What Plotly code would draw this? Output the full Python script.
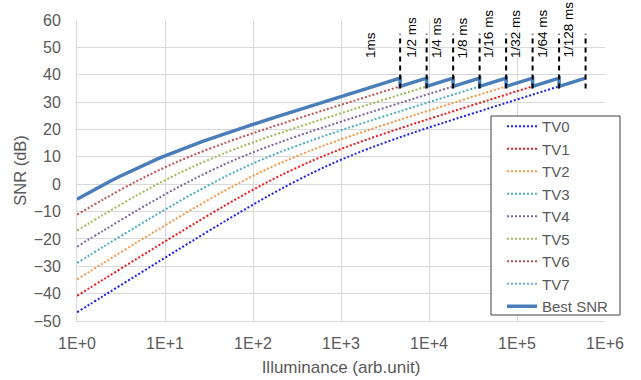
import numpy as np
import plotly.graph_objects as go

# ---- data ----
tv_names = ["TV0", "TV1", "TV2", "TV3", "TV4", "TV5", "TV6", "TV7"]

tv0_x = [1, 2, 5, 10, 20, 50, 100, 200, 500, 1000, 2000, 5000, 10000, 20000, 50000, 100000, 200000, 500000, 601600]
tv0_y = [-46.82, -40.81, -32.87, -26.88, -20.93, -13.18, -7.48, -2.04, 4.53, 8.93, 12.84, 17.47, 20.72, 23.85, 27.91, 30.94, 33.97, 37.95, 38.76]

tv1_x = [1, 2, 5, 10, 20, 50, 100, 200, 500, 1000, 2000, 5000, 10000, 20000, 50000, 100000, 200000, 300800]
tv1_y = [-40.81, -34.80, -26.88, -20.93, -15.05, -7.48, -2.04, 3.01, 8.93, 12.84, 16.38, 20.72, 23.85, 26.93, 30.94, 33.97, 36.98, 38.76]

tv2_x = [1, 2, 5, 10, 20, 50, 100, 200, 500, 1000, 2000, 5000, 10000, 20000, 50000, 100000, 150400]
tv2_y = [-34.80, -28.81, -20.93, -15.05, -9.29, -2.04, 3.01, 7.57, 12.84, 16.38, 19.69, 23.85, 26.93, 29.97, 33.97, 36.98, 38.76]

tv3_x = [1, 2, 5, 10, 20, 50, 100, 200, 500, 1000, 2000, 5000, 10000, 20000, 50000, 75200]
tv3_y = [-28.81, -22.84, -15.05, -9.29, -3.76, 3.01, 7.57, 11.63, 16.38, 19.69, 22.85, 26.93, 29.97, 32.99, 36.98, 38.76]

tv4_x = [1, 2, 5, 10, 20, 50, 100, 200, 500, 1000, 2000, 5000, 10000, 20000, 37600]
tv4_y = [-22.84, -16.94, -9.29, -3.76, 1.43, 7.57, 11.63, 15.27, 19.69, 22.85, 25.94, 29.97, 32.99, 36.01, 38.76]

tv5_x = [1, 2, 5, 10, 20, 50, 100, 200, 500, 1000, 2000, 5000, 10000, 18800]
tv5_y = [-16.94, -11.13, -3.76, 1.43, 6.16, 11.63, 15.27, 18.64, 22.85, 25.94, 28.99, 32.99, 36.01, 38.76]

tv6_x = [1, 2, 5, 10, 20, 50, 100, 200, 500, 1000, 2000, 5000, 9400]
tv6_y = [-11.13, -5.51, 1.43, 6.16, 10.37, 15.27, 18.64, 21.84, 25.94, 28.99, 32.02, 36.01, 38.76]

tv7_x = [1, 2, 5, 10, 20, 50, 100, 200, 500, 1000, 2000, 4700]
tv7_y = [-5.51, -0.19, 6.16, 10.37, 14.14, 18.64, 21.84, 24.95, 28.99, 32.02, 35.04, 38.76]

best_x = [1, 1.25, 1.5, 1.75, 2, 2.5, 3, 4, 5, 6, 7, 8, 10, 12.5, 15, 20, 25, 30, 40, 50, 70,
          100, 200, 300, 500, 1000, 2000, 3000,
          4700, 4700, 9400, 9400, 18800, 18800, 37600, 37600, 75200, 75200,
          150400, 150400, 300800, 300800, 601600]
best_y = [-5.51, -3.76, -2.35, -1.18, -0.19, 1.43, 2.73, 4.69, 6.16, 7.31, 8.27, 9.07, 10.37,
          11.63, 12.62, 14.14, 15.27, 16.18, 17.58, 18.64, 20.21,
          21.84, 24.95, 26.75, 28.99, 32.02, 35.04, 36.81,
          38.76, 35.74, 38.76, 35.74, 38.76, 35.74, 38.76, 35.74, 38.76, 35.74,
          38.76, 35.74, 38.76, 35.74, 38.76]

switch_x = [4700, 9400, 18800, 37600, 75200, 150400, 300800, 601600]
switch_lo = 35.0
switch_hi = 55.0

label_text = ["1ms", "1/2 ms", "1/4 ms", "1/8 ms", "1/16 ms", "1/32 ms", "1/64 ms", "1/128 ms"]
label_x = [2200, 6300, 12200, 24300, 48000, 97700, 196000, 386000]
label_y = 45.4

x_tickvals = [1, 10, 100, 1000, 10000, 100000, 1000000]
x_ticktext = ["1E+0", "1E+1", "1E+2", "1E+3", "1E+4", "1E+5", "1E+6"]

# ---- styles ----
tv_colors = ["#1F1FF5", "#F01818", "#F79646", "#4BACC6", "#8064A2", "#9BBB59", "#C0504D", "#6FA8DC"]
best_color = "#4A7EBB"
FONT = "Liberation Sans, Arial, sans-serif"
GRAY = "#595959"

tv_x = [tv0_x, tv1_x, tv2_x, tv3_x, tv4_x, tv5_x, tv6_x, tv7_x]
tv_y = [tv0_y, tv1_y, tv2_y, tv3_y, tv4_y, tv5_y, tv6_y, tv7_y]

fig = go.Figure()
for name, xs, ys, c in zip(tv_names, tv_x, tv_y, tv_colors):
    fig.add_trace(go.Scatter(x=xs, y=ys, name=name, mode="lines",
                             line=dict(color=c, width=2, dash="2px,2px", shape="spline")))

fig.add_trace(go.Scatter(x=best_x, y=best_y, name="Best SNR", mode="lines",
                         line=dict(color=best_color, width=3.5)))

dx, dy = [], []
for s in switch_x:
    dx += [s, s, None]
    dy += [switch_lo, switch_hi, None]
fig.add_trace(go.Scatter(x=dx, y=dy, mode="lines", showlegend=False, hoverinfo="skip",
                         line=dict(color="black", width=2, dash="5px,4px")))

for t, lx in zip(label_text, label_x):
    fig.add_annotation(x=np.log10(lx), y=label_y, xref="x", yref="y", text=t,
                       textangle=-90, showarrow=False, xanchor="center", yanchor="bottom",
                       font=dict(family=FONT, size=13.5, color="black"))

# legend frame (white box with dark border, drawn over the curves)
fig.add_shape(type="rect", xref="paper", yref="paper",
              x0=(491 - 77) / 528, x1=(620 - 77) / 528,
              y0=(321 - 315) / 301, y1=(321 - 116) / 301,
              line=dict(color="#404040", width=1), fillcolor="white", layer="above")

fig.update_xaxes(type="log", range=[0, 6], tickvals=x_tickvals, ticktext=x_ticktext,
                 showgrid=True, gridcolor="#D9D9D9", gridwidth=1,
                 showline=True, linecolor="#D9D9D9", ticks="", ticklabelstandoff=8,
                 tickfont=dict(family=FONT, size=16, color=GRAY),
                 title=dict(text="Illuminance (arb.unit)", standoff=9,
                            font=dict(family=FONT, size=17, color=GRAY)))
fig.update_yaxes(range=[-50, 60], dtick=10, tick0=0,
                 showgrid=True, gridcolor="#D9D9D9", gridwidth=1, zeroline=False,
                 showline=True, linecolor="#D9D9D9", ticks="", ticklabelstandoff=12,
                 tickfont=dict(family=FONT, size=16, color=GRAY),
                 title=dict(text="SNR (dB)", standoff=2,
                            font=dict(family=FONT, size=16.5, color=GRAY)))

fig.update_layout(
    width=641, height=380,
    margin=dict(l=77, r=36, t=20, b=59, autoexpand=False),
    paper_bgcolor="white", plot_bgcolor="white",
    font=dict(family=FONT),
    legend=dict(x=(502 - 77) / 528, y=(321 - 110) / 301, xanchor="left", yanchor="top",
                bgcolor="rgba(0,0,0,0)", borderwidth=0,
                font=dict(family=FONT, size=15, color=GRAY)),
    showlegend=True,
)

fig.write_html("out.html")
